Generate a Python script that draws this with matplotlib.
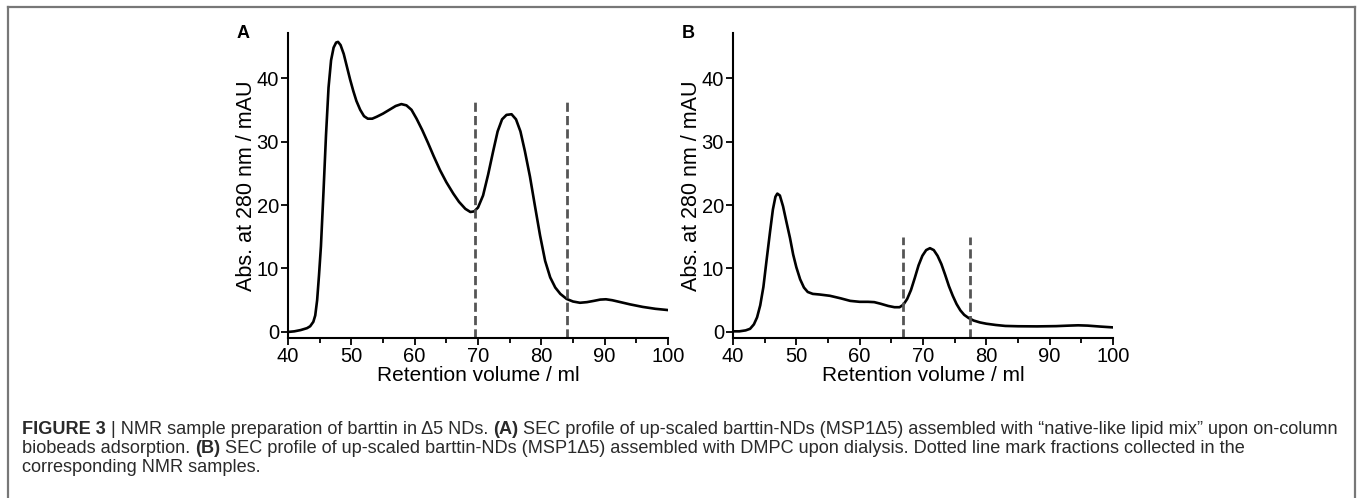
import matplotlib
matplotlib.use('Agg')
import matplotlib.pyplot as plt
from matplotlib.lines import Line2D

plt.rcParams['font.family'] = ['Liberation Sans', 'DejaVu Sans']

# panel A: SEC trace, native-like lipid mix
vol_a = [40, 41, 42, 43, 43.5, 44.0, 44.3, 44.6, 44.9, 45.2, 45.6, 46.0, 46.4, 46.8,
         47.2, 47.6, 47.9, 48.3, 48.8, 49.3, 49.8, 50.3, 50.8, 51.4, 52.0, 52.6, 53.3,
         54.0, 55.0, 56.0, 57.0, 57.9, 58.7, 59.5, 60.3, 61.2, 62.1, 63.0, 64.0, 65.0,
         66.1, 67.0, 68.0, 68.8, 69.4, 70.0, 70.8, 71.6, 72.4, 73.1, 73.8, 74.5, 75.3,
         76.0, 76.7, 77.4, 78.2, 79.0, 79.8, 80.6, 81.4, 82.2, 83.0, 84.0, 85.0, 86.1,
         87.2, 88.3, 89.3, 90.2, 91.2, 92.5, 94, 96, 98, 100]
abs_a = [0.0, 0.1, 0.3, 0.6, 0.9, 1.6, 2.6, 5.0, 9.0, 13.5, 22.0, 31.0, 38.5, 42.8,
         44.8, 45.6, 45.7, 45.2, 43.8, 41.8, 39.8, 38.0, 36.4, 35.0, 34.0, 33.6, 33.6,
         33.9, 34.4, 35.0, 35.6, 35.9, 35.7, 35.0, 33.6, 31.8, 29.8, 27.7, 25.5, 23.6,
         21.8, 20.5, 19.4, 18.9, 19.0, 19.6, 21.5, 24.8, 28.5, 31.6, 33.5, 34.2, 34.3,
         33.5, 31.6, 28.5, 24.5, 19.8, 15.2, 11.2, 8.6, 7.0, 6.0, 5.2, 4.8, 4.6,
         4.7, 4.9, 5.1, 5.15, 5.0, 4.7, 4.35, 3.95, 3.65, 3.45]

# panel B: SEC trace, DMPC
vol_b = [40, 41, 42, 42.7, 43.3, 43.8, 44.3, 44.8, 45.3, 45.85, 46.3, 46.7, 47.0, 47.4,
         47.9, 48.4, 49.0, 49.5, 50.0, 50.6, 51.2, 51.8, 52.6, 53.7, 55.3, 57.0, 58.5,
         60.0, 61.3, 62.3, 63.3, 64.5, 65.5, 66.3, 66.9, 67.5, 68.1, 68.7, 69.3, 69.9,
         70.5, 71.1, 71.7, 72.3, 72.9, 73.5, 74.1, 74.7, 75.3, 75.9, 76.5, 77.2, 78.0,
         79.0, 80.0, 81.5, 83, 85, 88, 91, 93, 94.5, 96, 98, 100]
abs_b = [0.1, 0.1, 0.25, 0.5, 1.2, 2.3, 4.2, 7.1, 11.3, 15.8, 19.3, 21.3, 21.8, 21.5,
         19.8, 17.5, 14.8, 12.2, 10.2, 8.3, 7.0, 6.3, 6.0, 5.9, 5.7, 5.3, 4.9,
         4.75, 4.75, 4.7, 4.45, 4.1, 3.9, 3.9, 4.3, 5.2, 6.6, 8.5, 10.5, 12.0,
         12.9, 13.2, 12.9, 12.0, 10.7, 9.0, 7.2, 5.7, 4.4, 3.4, 2.7, 2.2, 1.8,
         1.5, 1.3, 1.1, 0.95, 0.9, 0.88, 0.92, 1.0, 1.05, 1.0, 0.85, 0.72]

cuts_a = [69.6, 84.0]
cuts_b = [66.8, 77.4]
cut_top_a = 36.5
cut_top_b = 14.9

W, H = 1358, 498
fig = plt.figure(figsize=(W / 100, H / 100), dpi=100)


def make_panel(left_px, vol, absb, cuts, cut_top, letter):
    ax = fig.add_axes([left_px / W, 1 - 338 / H, 380 / W, 305 / H])
    ax.plot(vol, absb, color='black', lw=1.9, solid_joinstyle='round')
    for c in cuts:
        ax.plot([c, c], [-0.95, cut_top], color='#555555', lw=2.0, ls=(0, (3.3, 1.5)))
    ax.set_xlim(40, 100)
    ax.set_ylim(-0.95, 47.1)
    ax.set_xticks(range(40, 101, 10))
    ax.set_xticks(range(45, 100, 10), minor=True)
    ax.set_yticks(range(0, 41, 10))
    for s in ['top', 'right']:
        ax.spines[s].set_visible(False)
    for s in ['left', 'bottom']:
        ax.spines[s].set_linewidth(1.5)
    ax.tick_params(which='major', direction='out', length=5, width=1.3, labelsize=14.5, pad=1.5)
    ax.tick_params(which='minor', direction='out', length=3.5, width=1.3)
    ax.set_ylabel('Abs. at 280 nm / mAU', fontsize=15.5, labelpad=0)
    fig.text((left_px + 190) / W, 1 - 381 / H, 'Retention volume / ml', fontsize=15,
             ha='center', va='baseline')
    fig.text((left_px - 51) / W, 1 - 33 / H, letter, fontsize=13, fontweight='bold',
             ha='left', va='center')
    return ax


make_panel(288, vol_a, abs_a, cuts_a, cut_top_a, 'A')
make_panel(733, vol_b, abs_b, cuts_b, cut_top_b, 'B')

# frame around the figure
border = '#777777'
fig.add_artist(Line2D([8 / W, 1355 / W], [1 - 7 / H, 1 - 7 / H], color=border, lw=1.6))
fig.add_artist(Line2D([8 / W, 8 / W], [1 - 7 / H, 0], color=border, lw=1.6))
fig.add_artist(Line2D([1355 / W, 1355 / W], [1 - 7 / H, 0], color=border, lw=1.6))

# caption, pieces placed one after another on each line
cap_lines = [
    [('FIGURE 3', 'bold'), (' | NMR sample preparation of barttin in \u03945 NDs. ', 'normal'),
     ('(A)', 'bold'),
     (' SEC profile of up-scaled barttin-NDs (MSP1\u03945) assembled with \u201cnative-like lipid mix\u201d upon on-column', 'normal')],
    [('biobeads adsorption. ', 'normal'), ('(B)', 'bold'),
     (' SEC profile of up-scaled barttin-NDs (MSP1\u03945) assembled with DMPC upon dialysis. Dotted line mark fractions collected in the', 'normal')],
    [('corresponding NMR samples.', 'normal')],
]
cap_base = [434, 453, 472]
renderer = fig.canvas.get_renderer()


def line_width(parts, size):
    w = 0
    for txt, wt in parts:
        t = fig.text(0, 0, txt, fontsize=size, fontweight=wt)
        w += t.get_window_extent(renderer).width
        t.remove()
    return w


cap_size = 11 * 1315 / line_width(cap_lines[0], 11)
for parts, yb in zip(cap_lines, cap_base):
    x = 22
    for txt, wt in parts:
        t = fig.text(x / W, 1 - yb / H, txt, fontsize=cap_size, fontweight=wt,
                     color='#2a2a2a', ha='left', va='baseline')
        x += t.get_window_extent(renderer).width

fig.savefig('out.png', dpi=100)
